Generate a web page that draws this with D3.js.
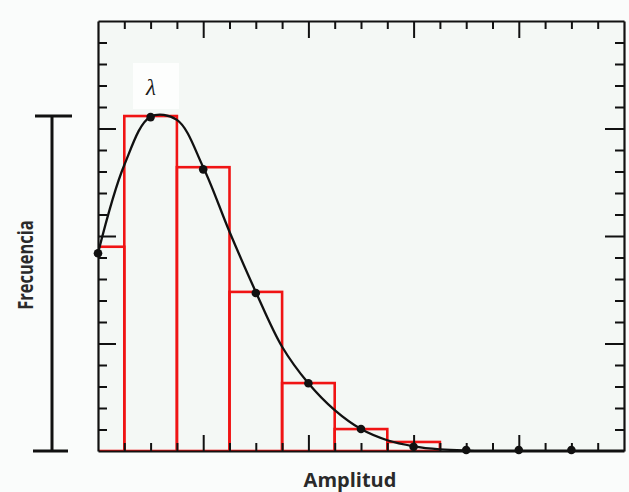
<!DOCTYPE html>
<html>
<head>
<meta charset="utf-8">
<script src="https://cdn.jsdelivr.net/npm/d3@7"></script>
<style>
  html, body { margin: 0; padding: 0; background: #fafcfb; }
  svg { display: block; }
</style>
</head>
<body>
<div id="chart"></div>
<script>
// histogram bins: [start, end] on the amplitude axis (tick units) and height
const binStarts = [-1, 1, 3, 5, 7, 9, 11];
const binEnds = [1, 3, 5, 7, 9, 11, 13];
const binHeights = [9.5, 15.58, 13.2, 7.4, 3.16, 1.02, 0.42];

// fitted curve read at every tick
const curveX = [0, 1, 2, 3, 4, 5, 6, 7, 8, 9, 10, 11, 12, 13, 14, 15, 16, 17, 18, 19, 20];
const curveY = [9.2, 13.3, 15.55, 15.4, 13.2, 10.2, 7.4, 4.85, 3.15, 1.9, 1.02, 0.5, 0.22, 0.08, 0.03, 0.02, 0.02, 0.02, 0.02, 0.02, 0.02];

// sampled points (dots) on the curve
const dotX = [0, 2, 4, 6, 8, 10, 12, 14, 16, 18];
const dotY = [9.2, 15.53, 13.1, 7.35, 3.15, 1.02, 0.2, 0.05, 0.05, 0.05];

// frame ticks
const xTicks = d3.range(0, 21);
const xMajor = [4, 8, 12, 16];
const yTicks = d3.range(0, 21);
const yMajor = [5, 10, 15];

const peakLabel = 'λ';
const xLabel = 'Amplitud';
const yLabel = 'Frecuencia';

const width = 629, height = 492;
const plot = { left: 98, right: 624, top: 21, bottom: 451 };

const svg = d3.select('#chart').append('svg')
  .attr('width', width)
  .attr('height', height);

const x = d3.scaleLinear().domain([0, 20]).range([plot.left, plot.right]);
const y = d3.scaleLinear().domain([0, 20]).range([plot.bottom, plot.top]);

// plot background
svg.append('rect')
  .attr('x', plot.left).attr('y', plot.top)
  .attr('width', plot.right - plot.left).attr('height', plot.bottom - plot.top)
  .attr('fill', '#f4f8f5');

svg.append('clipPath').attr('id', 'clip')
  .append('rect')
  .attr('x', plot.left).attr('y', plot.top)
  .attr('width', plot.right - plot.left).attr('height', plot.bottom - plot.top);

// white patch behind the lambda
svg.append('rect')
  .attr('x', 133).attr('y', 63).attr('width', 46).attr('height', 46)
  .attr('fill', '#fdfefd');

// histogram bars
const bins = binStarts.map((s, i) => ({ s: s, e: binEnds[i], h: binHeights[i] }));
svg.append('g')
  .attr('clip-path', 'url(#clip)')
  .selectAll('rect')
  .data(bins)
  .join('rect')
  .attr('x', d => x(d.s))
  .attr('y', d => y(d.h))
  .attr('width', d => x(d.e) - x(d.s))
  .attr('height', d => y(0) - y(d.h))
  .attr('fill', 'none')
  .attr('stroke', '#f01414')
  .attr('stroke-width', 2.6);

// curve
const line = d3.line()
  .x((d, i) => x(curveX[i]))
  .y(d => y(d))
  .curve(d3.curveCatmullRom);

svg.append('path')
  .attr('clip-path', 'url(#clip)')
  .attr('d', line(curveY))
  .attr('fill', 'none')
  .attr('stroke', '#111')
  .attr('stroke-width', 2.3);

// dots
svg.append('g')
  .selectAll('circle')
  .data(dotY)
  .join('circle')
  .attr('cx', (d, i) => x(dotX[i]))
  .attr('cy', d => y(d))
  .attr('r', 4.3)
  .attr('fill', '#111');

// frame with inward ticks
function styleAxis(g, major, len) {
  g.select('.domain').attr('stroke', '#111').attr('stroke-width', 2.2);
  g.selectAll('.tick line').attr('stroke', '#111').attr('stroke-width', 2);
  g.selectAll('.tick text').remove();
  g.selectAll('.tick').filter(d => major.includes(d)).select('line').each(function () {
    const l = d3.select(this);
    if (l.attr('y2') !== null && +l.attr('y2') !== 0) l.attr('y2', Math.sign(+l.attr('y2')) * len);
    if (l.attr('x2') !== null && +l.attr('x2') !== 0) l.attr('x2', Math.sign(+l.attr('x2')) * len);
  });
}

const innerX = xTicks.filter(t => t > 0 && t < 20);
const innerY = yTicks.filter(t => t > 0 && t < 20);

svg.append('g')
  .attr('transform', `translate(0,${plot.top})`)
  .call(d3.axisBottom(x).tickValues(innerX).tickSize(8).tickSizeOuter(0).tickFormat(''))
  .call(g => styleAxis(g, xMajor, 17));

svg.append('g')
  .attr('transform', `translate(0,${plot.bottom})`)
  .call(d3.axisTop(x).tickValues(innerX).tickSize(8).tickSizeOuter(0).tickFormat(''))
  .call(g => styleAxis(g, xMajor, 16));

svg.append('g')
  .attr('transform', `translate(${plot.left},0)`)
  .call(d3.axisRight(y).tickValues(innerY).tickSize(9).tickSizeOuter(0).tickFormat(''))
  .call(g => styleAxis(g, yMajor, 18));

svg.append('g')
  .attr('transform', `translate(${plot.right},0)`)
  .call(d3.axisLeft(y).tickValues(innerY).tickSize(9).tickSizeOuter(0).tickFormat(''))
  .call(g => styleAxis(g, yMajor, 19));

// lambda label over the peak
svg.append('text')
  .attr('x', 151).attr('y', 95)
  .attr('text-anchor', 'middle')
  .attr('font-family', '"Liberation Serif", "DejaVu Serif", serif')
  .attr('font-style', 'italic')
  .attr('font-size', 23)
  .attr('fill', '#1a1a1a')
  .text(peakLabel);

// frequency bracket from zero to the peak height
const peak = d3.max(binHeights);
const bx = 52;
const bracket = svg.append('g').attr('stroke', '#111').attr('stroke-width', 3);
bracket.append('line').attr('x1', bx).attr('x2', bx).attr('y1', y(peak)).attr('y2', y(0));
bracket.append('line').attr('x1', bx - 17).attr('x2', bx + 20).attr('y1', y(peak)).attr('y2', y(peak));
bracket.append('line').attr('x1', bx - 19).attr('x2', bx + 16).attr('y1', y(0)).attr('y2', y(0));

// axis titles
svg.append('text')
  .attr('transform', 'translate(33,265) rotate(-90) scale(1,1.3)')
  .attr('text-anchor', 'middle')
  .attr('font-family', '"Open Sans", sans-serif')
  .attr('font-weight', 700)
  .attr('font-size', 16.5)
  .attr('fill', '#2a2a2a')
  .text(yLabel);

svg.append('text')
  .attr('x', 350).attr('y', 487)
  .attr('text-anchor', 'middle')
  .attr('font-family', '"Open Sans", sans-serif')
  .attr('font-weight', 700)
  .attr('font-size', 20)
  .attr('fill', '#2a2a2a')
  .text(xLabel);
</script>
</body>
</html>
